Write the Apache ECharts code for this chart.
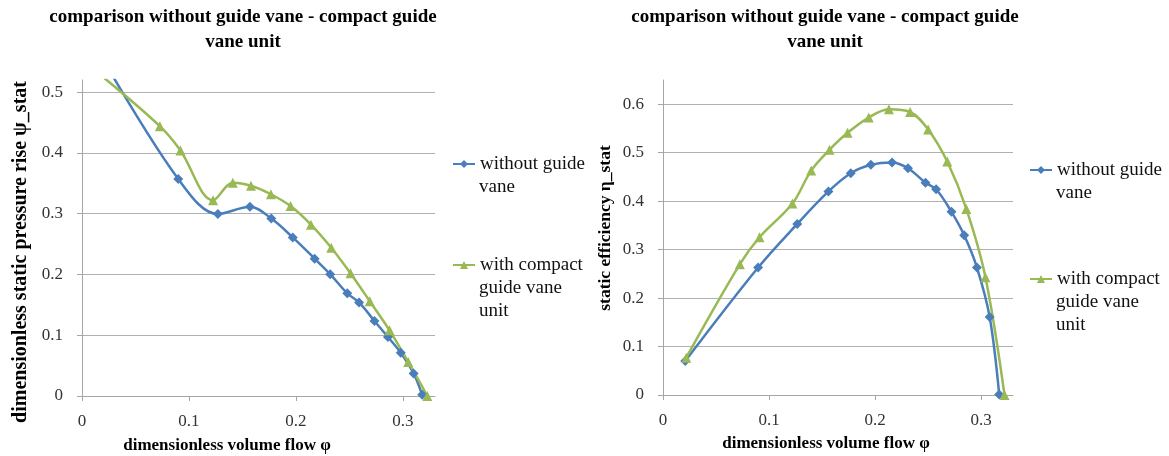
<!DOCTYPE html>
<html><head><meta charset="utf-8">
<script src="https://cdn.jsdelivr.net/npm/echarts@6/dist/echarts.min.js"></script>
<style>html,body{margin:0;padding:0;background:#fff}#c{width:1169px;height:456px}</style>
</head><body><div id="c"></div>
<script>
// Left chart: dimensionless static pressure rise
const leftBlueX = [0.021, 0.090, 0.127, 0.157, 0.177, 0.197, 0.2175, 0.232, 0.248, 0.259, 0.2734, 0.286, 0.298, 0.310, 0.318];
const leftBlueY = [0.550, 0.357, 0.2995, 0.3115, 0.292, 0.261, 0.226, 0.2005, 0.169, 0.154, 0.1235, 0.097, 0.071, 0.037, 0.002];
const leftGreenX = [0.021, 0.0728, 0.092, 0.1225, 0.141, 0.158, 0.1766, 0.195, 0.214, 0.233, 0.251, 0.269, 0.2875, 0.305, 0.3228];
const leftGreenY = [0.523, 0.444, 0.404, 0.322, 0.351, 0.346, 0.332, 0.3125, 0.282, 0.244, 0.202, 0.156, 0.108, 0.056, 0.0];
// Right chart: static efficiency
const rightBlueX = [0.021, 0.0897, 0.1266, 0.156, 0.177, 0.196, 0.216, 0.231, 0.2475, 0.2575, 0.272, 0.284, 0.296, 0.308, 0.317];
const rightBlueY = [0.070, 0.263, 0.353, 0.420, 0.4576, 0.475, 0.480, 0.468, 0.438, 0.4245, 0.378, 0.3296, 0.263, 0.161, 0.001];
const rightGreenX = [0.0219, 0.0725, 0.091, 0.122, 0.1397, 0.157, 0.174, 0.194, 0.213, 0.233, 0.250, 0.268, 0.286, 0.304, 0.322];
const rightGreenY = [0.077, 0.270, 0.3255, 0.395, 0.463, 0.506, 0.541, 0.5725, 0.5897, 0.584, 0.548, 0.4817, 0.384, 0.243, 0.0];

const xTicks = [0, 0.1, 0.2, 0.3];
const seriesNames = ['without guide vane', 'with compact guide vane unit'];
const legendLines = [['without guide', 'vane'], ['with compact', 'guide vane', 'unit']];
const titleText = 'comparison without guide vane - compact guide\nvane unit';
const xTitle = 'dimensionless volume flow \u03c6';
const yTitleLeft = 'dimensionless static pressure rise \u03c8_stat';
const yTitleRight = 'static efficiency \u03b7_stat';

const zip = (xs, ys) => xs.map((x, i) => [x, ys[i]]);
const BLUE = '#4a7ebb', GREEN = '#98b954';
const SERIF = '"Liberation Serif","DejaVu Serif",serif';
const fmt = v => String(+(+v).toFixed(2));

function xAxisDef(idx) {
  return {
    gridIndex: idx, type: 'value', min: 0, max: 0.33, interval: 0.1,
    axisLine: {show: true, lineStyle: {color: '#a6a6a6'}},
    axisTick: {show: true, length: 5, customValues: xTicks, lineStyle: {color: '#a6a6a6'}},
    splitLine: {show: false},
    axisLabel: {customValues: xTicks, margin: 17, fontFamily: SERIF, fontSize: 17, color: '#333', formatter: fmt}
  };
}
function yAxisDef(idx, max) {
  return {
    gridIndex: idx, type: 'value', min: 0, max: max, interval: 0.1,
    axisLine: {show: true, lineStyle: {color: '#a6a6a6'}},
    axisTick: {show: true, length: 5, lineStyle: {color: '#a6a6a6'}},
    splitLine: {show: true, showMaxLine: false, lineStyle: {color: '#b0b0b0', width: 1}},
    axisLabel: {showMaxLabel: false, margin: 19, fontFamily: SERIF, fontSize: 17, color: '#333', formatter: fmt}
  };
}
function lineSeries(name, data, xi, color, symbol) {
  return {
    name: name, type: 'line', xAxisIndex: xi, yAxisIndex: xi, data: data,
    smooth: 0.35, clip: true, symbol: symbol, symbolSize: 10,
    lineStyle: {color: color, width: 2.5}, itemStyle: {color: color}
  };
}
function legendDef(name, firstLine, left, centerY) {
  return {
    data: [name], left: left, top: centerY - 11.5, padding: 0, itemWidth: 22, itemHeight: 10,
    selectedMode: false,
    formatter: () => firstLine,
    textStyle: {fontFamily: SERIF, fontSize: 19, color: '#111', lineHeight: 23}
  };
}
function legendMore(lines, x, y0) {
  return lines.slice(1).map((t, i) => ({
    type: 'text', x: x, y: y0 + (i + 1) * 23,
    style: {text: t, font: '19px ' + SERIF, fill: '#111', align: 'left', verticalAlign: 'middle'}
  }));
}

const chart = echarts.init(document.getElementById('c'), null, {renderer: 'canvas'});
chart.setOption({
  animation: false,
  title: [
    {text: titleText, left: 243, top: 5, padding: 0, textAlign: 'center',
     textStyle: {fontFamily: SERIF, fontSize: 19, fontWeight: 'bold', color: '#000', lineHeight: 25}},
    {text: titleText, left: 825, top: 5, padding: 0, textAlign: 'center',
     textStyle: {fontFamily: SERIF, fontSize: 19, fontWeight: 'bold', color: '#000', lineHeight: 25}}
  ],
  grid: [
    {left: 82, top: 80, width: 353, height: 316},
    {left: 663, top: 80, width: 350, height: 315}
  ],
  xAxis: [xAxisDef(0), xAxisDef(1)],
  yAxis: [yAxisDef(0, 0.52), yAxisDef(1, 0.65)],
  legend: [
    legendDef(seriesNames[0], legendLines[0][0], 452, 164),
    legendDef(seriesNames[1], legendLines[1][0], 452, 265),
    legendDef(seriesNames[0], legendLines[0][0], 1029, 170),
    legendDef(seriesNames[1], legendLines[1][0], 1029, 279)
  ],
  series: [
    lineSeries(seriesNames[0], zip(leftBlueX, leftBlueY), 0, BLUE, 'diamond'),
    lineSeries(seriesNames[1], zip(leftGreenX, leftGreenY), 0, GREEN, 'triangle'),
    lineSeries(seriesNames[0], zip(rightBlueX, rightBlueY), 1, BLUE, 'diamond'),
    lineSeries(seriesNames[1], zip(rightGreenX, rightGreenY), 1, GREEN, 'triangle')
  ],
  graphic: [
    {type: 'text', x: 227, y: 446, style: {text: xTitle, font: 'bold 17px ' + SERIF, fill: '#000', align: 'center', verticalAlign: 'middle'}},
    {type: 'text', x: 826, y: 444, style: {text: xTitle, font: 'bold 17px ' + SERIF, fill: '#000', align: 'center', verticalAlign: 'middle'}},
    {type: 'text', x: 21, y: 252, rotation: Math.PI / 2, style: {text: yTitleLeft, font: 'bold 20px ' + SERIF, fill: '#000', align: 'center', verticalAlign: 'middle'}},
    {type: 'text', x: 605, y: 228, rotation: Math.PI / 2, style: {text: yTitleRight, font: 'bold 17.5px ' + SERIF, fill: '#000', align: 'center', verticalAlign: 'middle'}}
  ].concat(legendMore(legendLines[0], 479, 164), legendMore(legendLines[1], 479, 265),
           legendMore(legendLines[0], 1056, 170), legendMore(legendLines[1], 1056, 279))
});
</script></body></html>
